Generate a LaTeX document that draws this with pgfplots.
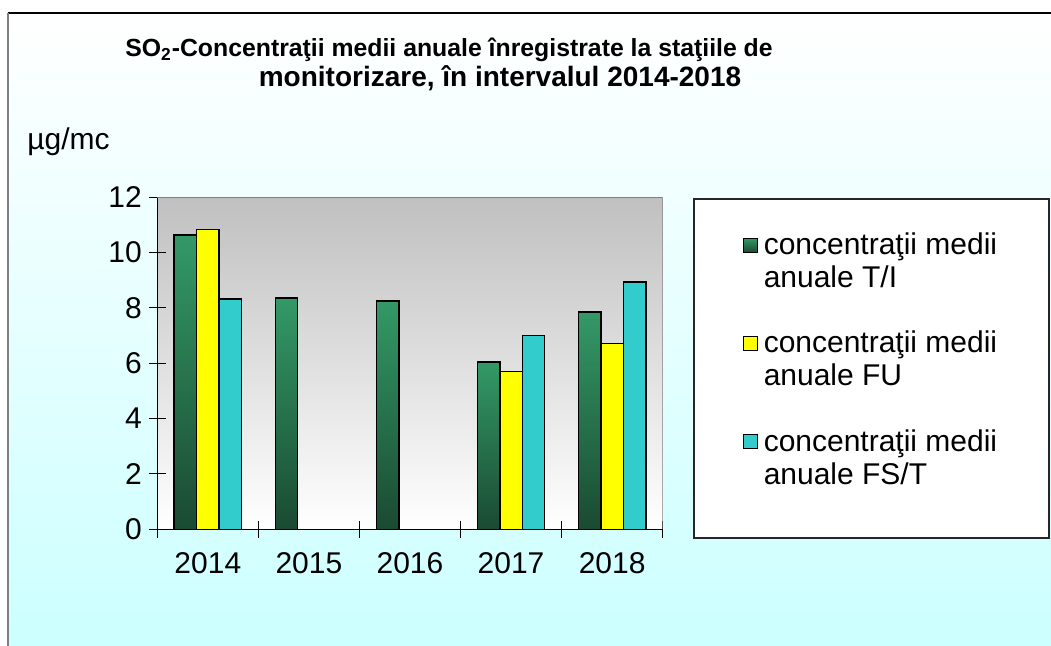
\documentclass[border=0pt]{standalone}
\usepackage{fontspec}
\setmainfont{Liberation Sans}
\usepackage{pgfplots}
\pgfplotsset{compat=1.18}
\definecolor{gtop}{RGB}{51,153,102}
\definecolor{gmid}{RGB}{44,132,88}
\definecolor{gbot}{RGB}{26,74,50}
\definecolor{ylw}{RGB}{255,255,0}
\definecolor{cyn}{RGB}{51,204,204}
\definecolor{bgcyan}{RGB}{204,255,255}
\definecolor{pagray}{RGB}{192,192,192}
\begin{document}
\begin{tikzpicture}[x=1pt,y=1pt]
\path[use as bounding box, fill=white] (0,0) rectangle (525.5,323);
\shade[top color=white, bottom color=bgcyan] (4,0) rectangle (525.5,316.5);
\draw[black, line width=0.6pt] (4,316.5) -- (525.5,316.5);
\draw[gray, line width=0.6pt] (4,0) -- (4,316.5);
\node[font=\bfseries\fontsize{12.4}{14}\selectfont, anchor=base] at (224.5,294.5) {SO\textsubscript{2}-Concentraţii medii anuale înregistrate la staţiile de};
\node[font=\bfseries\fontsize{14}{16}\selectfont, anchor=base] at (250,279.5) {monitorizare, în intervalul 2014-2018};
\node[anchor=base west, font=\fontsize{15}{17}\selectfont, inner sep=0] at (13.5,248) {µg/mc};
\draw[black!85, line width=0.7pt, fill=white] (347,54) rectangle (524.5,223.5);
\begin{axis}[
  at={(78.65pt,58.35pt)}, anchor=south west,
  scale only axis, width=252.7pt, height=166pt,
  ybar, bar width=11.2pt,
  xmin=-0.5, xmax=4.5, ymin=0, ymax=12,
  axis lines*=left,
  axis line style={-, black, line width=0.7pt},
  xtick={0,1,2,3,4}, xticklabels={2014,2015,2016,2017,2018},
  minor xtick={-0.5,0.5,1.5,2.5,3.5,4.5},
  ytick={0,2,...,12},
  tick align=center,
  major tick length=8.5pt, minor tick length=8.5pt,
  major x tick style={draw=none},
  tick style={black, line width=0.5pt},
  ticklabel style={font=\fontsize{15}{17}\selectfont},
  xticklabel style={yshift=-4pt},
  /pgf/number format/assume math mode=true,
  axis background/.style={top color=pagray, bottom color=white},
  legend style={at={(1.4151,0.51)}, anchor=center, draw=none, fill=none,
    font=\fontsize{15}{16.5}\selectfont, cells={anchor=west, align=left}, row sep=16.25pt},
  legend image code/.code={\pgfpathrectangle{\pgfpoint{0pt}{-11.75pt}}{\pgfpoint{8pt}{23.5pt}}\pgfusepath{}
    \draw[#1, draw=black, line width=0.5pt, overlay] (0pt,4.75pt) rectangle (7pt,11.75pt);},
  greenbar/.style={draw=black, line width=0.75pt, top color=gtop, middle color=gmid, bottom color=gbot, bar shift=-11.2pt},
]
\addplot[greenbar] coordinates {(0,10.64)};
\addlegendentry{concentraţii medii\\anuale T/I}
\addplot[greenbar, forget plot] coordinates {(1,8.36)};
\addplot[greenbar, forget plot] coordinates {(2,8.25)};
\addplot[greenbar, forget plot] coordinates {(3,6.05)};
\addplot[greenbar, forget plot] coordinates {(4,7.85)};
\addplot[draw=black, line width=0.75pt, fill=ylw, bar shift=0pt] coordinates {(0,10.83) (3,5.70) (4,6.71)};
\addlegendentry{concentraţii medii\\anuale FU}
\addplot[draw=black, line width=0.75pt, fill=cyn, bar shift=11.2pt] coordinates {(0,8.32) (3,7.00) (4,8.93)};
\addlegendentry{concentraţii medii\\anuale FS/T}
\draw[gray, line width=0.6pt] (rel axis cs:0,1) -- (rel axis cs:1,1) -- (rel axis cs:1,0);
\end{axis}
\end{tikzpicture}
\end{document}
